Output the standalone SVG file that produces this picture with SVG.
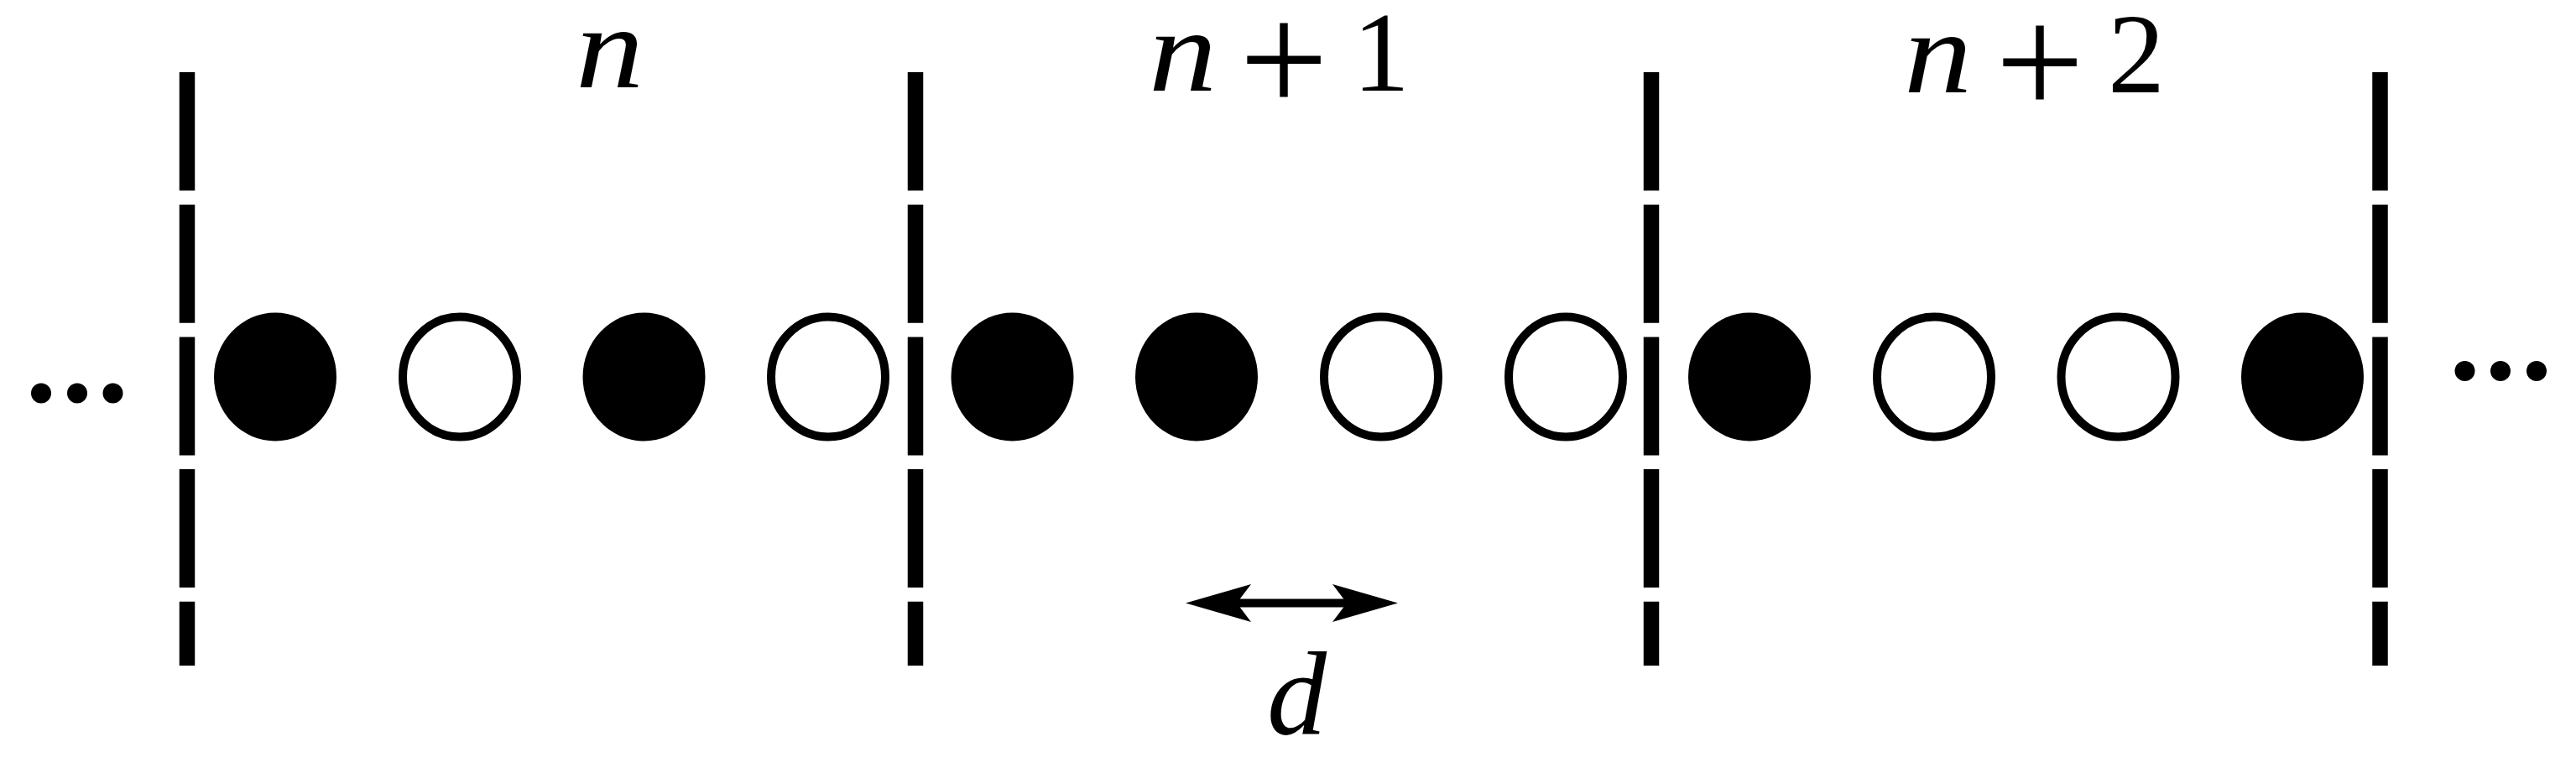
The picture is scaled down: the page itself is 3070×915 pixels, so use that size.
<svg xmlns="http://www.w3.org/2000/svg" width="3070" height="915" viewBox="0 0 3070 915">
<style>
.bar{stroke:#000;stroke-width:18.500;stroke-dasharray:141 16.7;fill:none}
.full{fill:#000}
.open{fill:#fff;stroke:#000;stroke-width:10}
.m{font-family:"Liberation Serif",serif;font-size:136px;fill:#000}
.n{font-family:"Liberation Serif",serif;font-size:140px;font-style:italic;fill:#000}
.p{font-size:188px}
.dot{fill:#000}
</style>
<defs>
<marker id="head" markerUnits="userSpaceOnUse" viewBox="0 0 78 46" markerWidth="78" markerHeight="46" refX="17" refY="23" orient="auto-start-reverse">
<path d="M78 23L0 0.5L17 23L0 45.5Z" fill="#000"/>
</marker>
</defs>
<rect width="3070" height="915" fill="#fff"/>
<g id="barriers">
<line class="bar" x1="223" y1="86" x2="223" y2="793"/>
<line class="bar" x1="1091" y1="86" x2="1091" y2="793"/>
<line class="bar" x1="1968" y1="86" x2="1968" y2="793"/>
<line class="bar" x1="2836.500" y1="86" x2="2836.500" y2="793"/>
</g>
<g id="connectors">
<line x1="1474" y1="718.500" x2="1605" y2="718.500" stroke="#000" stroke-width="10" marker-start="url(#head)" marker-end="url(#head)"/>
</g>
<g id="site-1"><ellipse class="full" cx="328" cy="449" rx="73" ry="76.500"/></g>
<g id="site-2"><ellipse class="open" cx="548" cy="449" rx="68" ry="71.500"/></g>
<g id="site-3"><ellipse class="full" cx="767.500" cy="449" rx="73" ry="76.500"/></g>
<g id="site-4"><ellipse class="open" cx="987" cy="449" rx="68" ry="71.500"/></g>
<g id="site-5"><ellipse class="full" cx="1206.500" cy="449" rx="73" ry="76.500"/></g>
<g id="site-6"><ellipse class="full" cx="1426" cy="449" rx="73" ry="76.500"/></g>
<g id="site-7"><ellipse class="open" cx="1646" cy="449" rx="68" ry="71.500"/></g>
<g id="site-8"><ellipse class="open" cx="1866" cy="449" rx="68" ry="71.500"/></g>
<g id="site-9"><ellipse class="full" cx="2085" cy="449" rx="73" ry="76.500"/></g>
<g id="site-10"><ellipse class="open" cx="2305" cy="449" rx="68" ry="71.500"/></g>
<g id="site-11"><ellipse class="open" cx="2524.500" cy="449" rx="68" ry="71.500"/></g>
<g id="site-12"><ellipse class="full" cx="2744" cy="449" rx="73" ry="76.500"/></g>
<g id="dots-left"><circle class="dot" cx="49" cy="468.500" r="12"/><circle class="dot" cx="92" cy="468.500" r="12"/><circle class="dot" cx="134.500" cy="468.500" r="12"/></g>
<g id="dots-right"><circle class="dot" cx="2937.500" cy="442" r="12"/><circle class="dot" cx="2980" cy="442" r="12"/><circle class="dot" cx="3023" cy="442" r="12"/></g>
<g id="label-n"><text class="n" transform="translate(686 104) scale(1.16 1)">n</text></g>
<g id="label-n1"><text class="n" transform="translate(1369 108) scale(1.16 1)">n</text><text class="m p" x="1477" y="134">+</text><text class="m" x="1612" y="108">1</text></g>
<g id="label-n2"><text class="n" transform="translate(2269 110) scale(1.16 1)">n</text><text class="m p" x="2378" y="137">+</text><text class="m" x="2512" y="110">2</text></g>
<g id="label-d"><text class="n" x="1510" y="875" style="font-size:142px">d</text></g>
</svg>
